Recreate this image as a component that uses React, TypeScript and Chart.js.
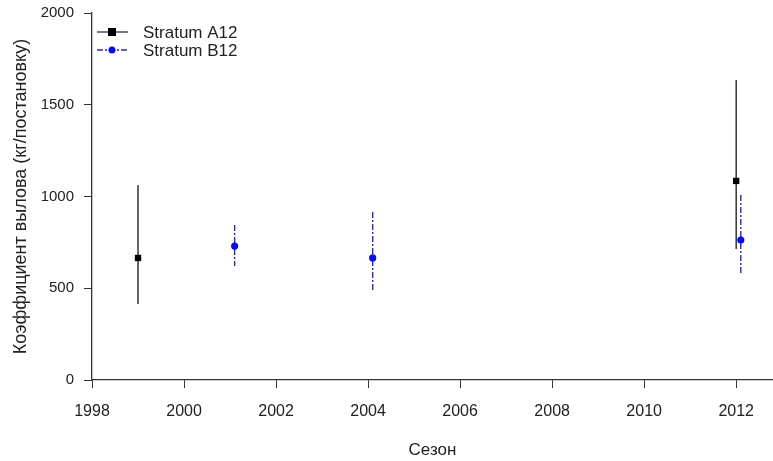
import React, { useEffect, useRef } from "react";
import { Chart, registerables } from "chart.js";

Chart.register(...registerables);

const seriesAName = "Stratum A12";
const seriesAYears = [1999, 2012];
const seriesAValues = [665, 1085];
const seriesALow = [414, 714];
const seriesAHigh = [1063, 1635];

const seriesBName = "Stratum B12";
const seriesBYears = [2001.1, 2004.1, 2012.1];
const seriesBValues = [730, 665, 763];
const seriesBLow = [621, 480, 583];
const seriesBHigh = [845, 915, 1008];

const xTickValues = [1998, 2000, 2002, 2004, 2006, 2008, 2010, 2012];
const yTickValues = [0, 500, 1000, 1500, 2000];

const xTitle = "Сезон";
const yTitle = "Коэффициент вылова (кг/постановку)";

const FONT = "'Liberation Sans', Arial, sans-serif";

const errorBarPlugin = {
  id: "errorBars",
  beforeDatasetsDraw(chart: any) {
    const ctx = chart.ctx;
    const ys = chart.scales.y;
    chart.data.datasets.forEach((ds: any, i: number) => {
      const meta = chart.getDatasetMeta(i);
      ctx.save();
      ctx.strokeStyle = ds.errColor;
      ctx.lineWidth = ds.errWidth;
      ctx.setLineDash(ds.errDash || []);
      meta.data.forEach((pt: any, j: number) => {
        const lo = ys.getPixelForValue(ds.errLow[j]);
        const hi = ys.getPixelForValue(ds.errHigh[j]);
        ctx.beginPath();
        ctx.moveTo(pt.x, hi);
        ctx.lineTo(pt.x, lo);
        ctx.stroke();
      });
      ctx.restore();
    });
  },
};

const legendPlugin = {
  id: "customLegend",
  afterDraw(chart: any) {
    const ctx = chart.ctx;
    const left = chart.chartArea.left;
    const top = chart.chartArea.top;
    const rows = [
      { y: top + 19, ds: chart.data.datasets[0] },
      { y: top + 37, ds: chart.data.datasets[1] },
    ];
    rows.forEach((r) => {
      ctx.save();
      ctx.strokeStyle = r.ds.errColor;
      ctx.lineWidth = 1.3;
      ctx.setLineDash(r.ds.errDash || []);
      ctx.beginPath();
      ctx.moveTo(left + 5, r.y);
      ctx.lineTo(left + 36, r.y);
      ctx.stroke();
      ctx.setLineDash([]);
      ctx.fillStyle = r.ds.pointBackgroundColor;
      if (r.ds.pointStyle === "rect") {
        ctx.fillRect(left + 16, r.y - 4, 8, 8);
      } else {
        ctx.beginPath();
        ctx.arc(left + 20, r.y, 3.5, 0, Math.PI * 2);
        ctx.fill();
      }
      ctx.fillStyle = "#222";
      ctx.font = `17px ${FONT}`;
      ctx.textBaseline = "middle";
      ctx.textAlign = "left";
      ctx.fillText(r.ds.label, left + 51, r.y + 1);
      ctx.restore();
    });
  },
};

export default function App() {
  const canvasRef = useRef<HTMLCanvasElement | null>(null);

  useEffect(() => {
    if (!canvasRef.current) return;
    const chart = new Chart(canvasRef.current, {
      type: "scatter",
      data: {
        datasets: [
          {
            label: seriesAName,
            data: seriesAYears.map((x, i) => ({ x, y: seriesAValues[i] })),
            pointStyle: "rect",
            pointRadius: 4.5,
            pointBackgroundColor: "#000",
            pointBorderColor: "#000",
            pointBorderWidth: 0,
            showLine: false,
            errLow: seriesALow,
            errHigh: seriesAHigh,
            errColor: "#333",
            errWidth: 1.5,
            errDash: [],
          } as any,
          {
            label: seriesBName,
            data: seriesBYears.map((x, i) => ({ x, y: seriesBValues[i] })),
            pointStyle: "circle",
            pointRadius: 3.6,
            pointBackgroundColor: "#0a0aee",
            pointBorderColor: "#0a0aee",
            pointBorderWidth: 0,
            showLine: false,
            errLow: seriesBLow,
            errHigh: seriesBHigh,
            errColor: "#2a2aaa",
            errWidth: 1.4,
            errDash: [6, 2, 2, 2],
          } as any,
        ],
      },
      options: {
        animation: false,
        responsive: false,
        maintainAspectRatio: false,
        layout: { autoPadding: false, padding: { top: 13, right: 0, left: 0, bottom: 0 } },
        plugins: {
          legend: { display: false },
          tooltip: { enabled: false },
        },
        scales: {
          x: {
            type: "linear",
            min: 1998,
            max: 2012.8,
            afterFit: (s: any) => {
              s.height = 81;
              s.paddingLeft = 0;
              s.paddingRight = 0;
            },
            afterBuildTicks: (s: any) => {
              s.ticks = xTickValues.map((v) => ({ value: v }));
            },
            ticks: {
              includeBounds: false,
              padding: 14,
              color: "#222",
              font: { family: FONT, size: 16 },
              callback: (v: any) => String(v),
              maxRotation: 0,
            },
            grid: {
              drawOnChartArea: false,
              drawTicks: true,
              tickLength: 8,
              color: "#333",
              lineWidth: 1,
            },
            border: { display: true, color: "#333", width: 1.3 },
            title: {
              display: true,
              text: xTitle,
              color: "#222",
              font: { family: FONT, size: 17 },
              padding: { top: 0, bottom: 0 },
            },
          },
          y: {
            type: "linear",
            min: 0,
            max: 2000,
            afterFit: (s: any) => {
              s.width = 92;
              s.paddingTop = 0;
              s.paddingBottom = 0;
            },
            afterBuildTicks: (s: any) => {
              s.ticks = yTickValues.map((v) => ({ value: v }));
            },
            ticks: {
              padding: 10,
              color: "#222",
              font: { family: FONT, size: 15 },
              callback: (v: any) => String(v),
            },
            grid: {
              drawOnChartArea: false,
              drawTicks: true,
              tickLength: 8,
              color: "#333",
              lineWidth: 1,
            },
            border: { display: true, color: "#333", width: 1.3 },
            title: {
              display: true,
              text: yTitle,
              color: "#222",
              font: { family: FONT, size: 18 },
              padding: { top: 10.5, bottom: 0 },
            },
          },
        },
      },
      plugins: [errorBarPlugin, legendPlugin],
    });
    return () => chart.destroy();
  }, []);

  return (
    <div style={{ position: "fixed", left: 0, top: 0, width: 773, height: 461, background: "#fff" }}>
      <canvas ref={canvasRef} width={773} height={461} style={{ width: 773, height: 461, display: "block" }} />
    </div>
  );
}
